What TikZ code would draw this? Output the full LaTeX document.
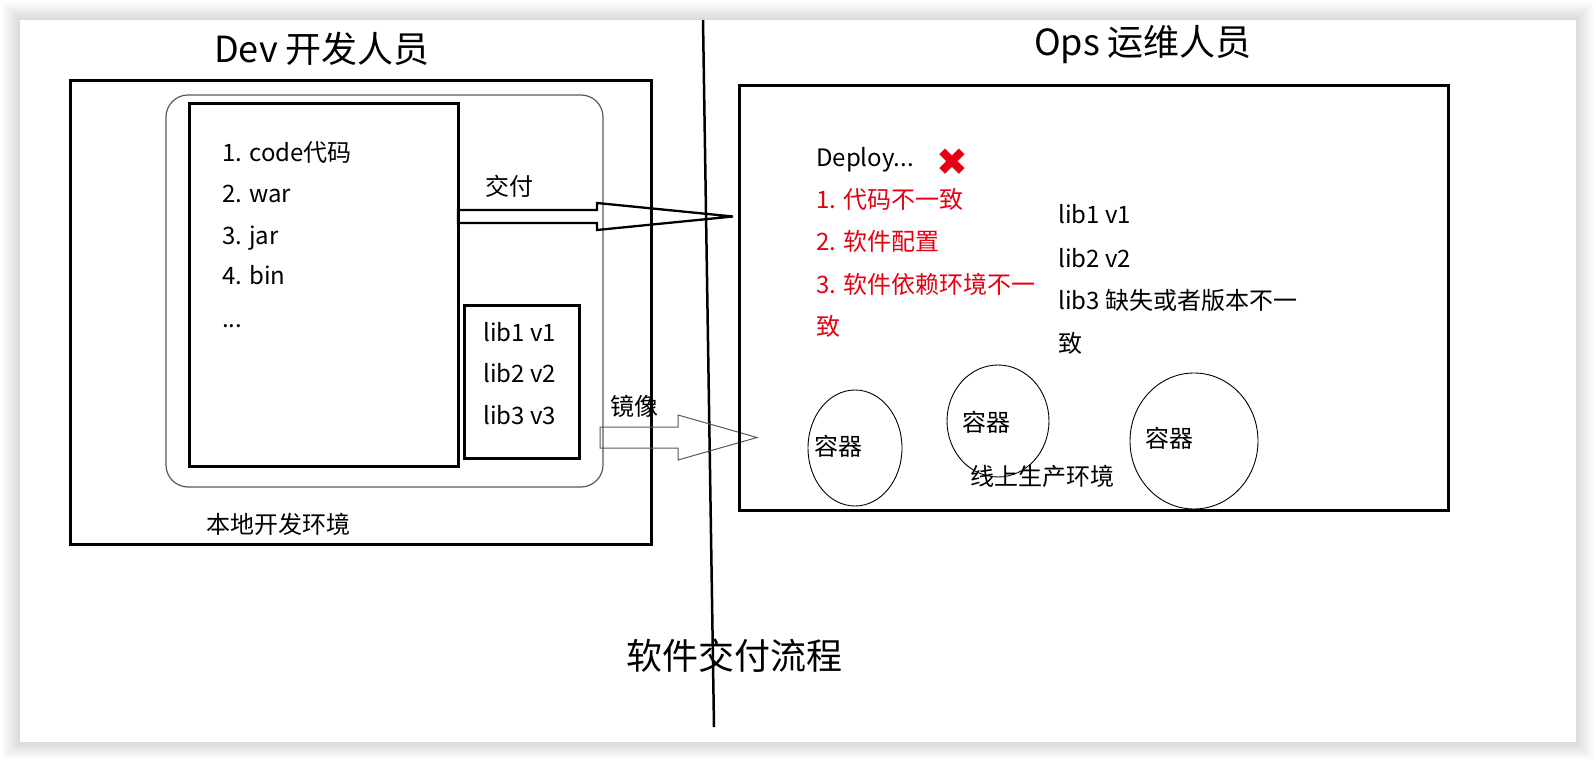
\documentclass[tikz,border=0pt]{standalone}
\usepackage{fontspec}
\setmainfont{Noto Sans CJK SC}
\newfontfamily\symfont{DejaVu Sans}
\usetikzlibrary{shapes.geometric}
\definecolor{errred}{RGB}{230,0,18}
\definecolor{thingray}{RGB}{90,90,90}
\begin{document}
\begin{tikzpicture}[x=1pt,y=-1pt,
  txt/.style={anchor=west,inner sep=0pt,font=\fontsize{24}{28}\selectfont,text height=17pt,text depth=5pt},
  ctxt/.style={inner sep=0pt,font=\fontsize{24}{28}\selectfont,text height=17pt,text depth=5pt},
  title/.style={inner sep=0pt,font=\fontsize{36}{42}\selectfont,text height=26pt,text depth=7pt},
  red/.style={text=errred},
  thickbox/.style={draw,line width=3pt,inner sep=0pt},
  envbox/.style={draw=thingray,line width=1.2pt,rounded corners=22pt,inner sep=0pt},
  container/.style={draw,ellipse,line width=0.9pt,inner sep=0pt},
  blockarrow/.style={draw,line width=2.3pt,line join=miter},
  thinarrow/.style={draw=thingray,line width=1pt,line join=miter}
]
\useasboundingbox (0,0) rectangle (1596,762);
% shadow and canvas
\foreach \i in {1,...,18}
  \fill[black,opacity=0.008] (20-\i,20-\i) rectangle (1576+\i,742+\i);
\fill[white] (20,20) rectangle (1576,742);

% divider
\coordinate (vtop) at (703,20);
\coordinate (vbot) at (714,727);
\draw[line width=2.5pt] (vtop) -- (vbot);

% titles
\node[title] (devtitle) at (322,53) {Dev 开发人员};
\node[title] (opstitle) at (1143,46) {Ops 运维人员};
\node[title] (maintitle) at (734,660) {软件交付流程};

% Dev side
\node[thickbox,minimum width=581pt,minimum height=463pt] (devbox) at (360.5,312.5) {};
\node[envbox,minimum width=437pt,minimum height=392pt] (localenv) at (384.5,291) {};
\node[thickbox,minimum width=269pt,minimum height=362pt] (codebox) at (323.5,285) {};
\node[thickbox,minimum width=115pt,minimum height=153pt] (libbox) at (521.5,381.5) {};

\node[txt] (c1) at (222,156) {1. code代码};
\node[txt] (c2) at (222,197) {2. war};
\node[txt] (c3) at (222,238) {3. jar};
\node[txt] (c4) at (222,278) {4. bin};
\node[txt] (c5) at (222,321) {...};

\node[txt] (l1) at (483,335) {lib1 v1};
\node[txt] (l2) at (483,376) {lib2 v2};
\node[txt] (l3) at (483,418) {lib3 v3};

\node[ctxt] (localtxt) at (278,527) {本地开发环境};

% delivery arrow
\coordinate (da0) at (458,210);
\coordinate (dtip) at (733,216.5);
\draw[blockarrow] (da0) -- (597,210) -- (597,203) -- (dtip) -- (597,230) -- (597,223) -- (458,223) -- cycle;
\node[ctxt] (deliverlbl) at (509,190) {交付};

% image arrow
\coordinate (ma0) at (600,427);
\coordinate (mtip) at (757,437.5);
\draw[thinarrow] (ma0) -- (678,427) -- (678,415) -- (mtip) -- (678,460) -- (678,448) -- (600,448) -- cycle;
\node[ctxt] (imagelbl) at (634,409) {镜像};

% Ops side
\node[thickbox,minimum width=709pt,minimum height=424pt] (opsbox) at (1093.5,298) {};

\node[txt] (deploy) at (816,161) {Deploy...};
\node[inner sep=0pt,text=errred,font=\symfont\fontsize{38}{42}\selectfont] (cross) at (952,162) {✖};
\node[txt,red] (r1) at (816,203) {1. 代码不一致};
\node[txt,red] (r2) at (816,245) {2. 软件配置};
\node[txt,red] (r3) at (816,288) {3. 软件依赖环境不一};
\node[txt,red] (r4) at (816,329) {致};

\node[txt] (o1) at (1058,218) {lib1 v1};
\node[txt] (o2) at (1058,261) {lib2 v2};
\node[txt] (o3) at (1058,303) {lib3 缺失或者版本不一};
\node[txt] (o4) at (1058,346) {致};

\node[container,minimum width=94pt,minimum height=116pt] (k1) at (855,448) {};
\node[container,minimum width=102pt,minimum height=112pt] (k2) at (998,421) {};
\node[container,minimum width=128pt,minimum height=136pt] (k3) at (1194,441) {};
\node[ctxt] (k1t) at (838,449) {容器};
\node[ctxt] (k2t) at (986,425) {容器};
\node[ctxt] (k3t) at (1169,441) {容器};

\node[ctxt] (prodtxt) at (1042,479) {线上生产环境};
\end{tikzpicture}
\end{document}
